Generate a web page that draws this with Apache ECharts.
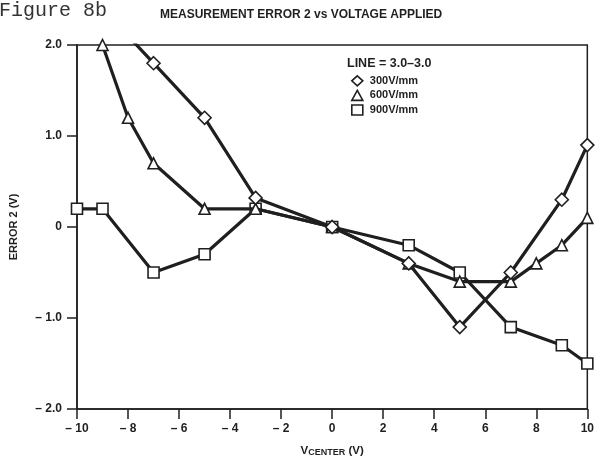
<!DOCTYPE html>
<html>
<head>
<meta charset="utf-8">
<script src="https://cdn.jsdelivr.net/npm/echarts@6/dist/echarts.min.js"></script>
<style>
  html, body { margin: 0; padding: 0; background: #fff; }
  #chart { width: 597px; height: 464px; }
</style>
</head>
<body>
<div id="chart"></div>
<script>
// Center voltage (V) for each series
const x300 = [-9, -7, -5, -3, 0, 3, 5, 7, 9, 10];
const x600 = [-9, -8, -7, -5, -3, 0, 3, 5, 7, 8, 9, 10];
const x900 = [-10, -9, -7, -5, -3, 0, 3, 5, 7, 9, 10];

// Measurement error 2 (V)
const err300 = [2.4, 1.8, 1.2, 0.32, 0, -0.4, -1.1, -0.5, 0.3, 0.9];
const err600 = [2.0, 1.2, 0.7, 0.2, 0.2, 0, -0.4, -0.6, -0.6, -0.4, -0.2, 0.1];
const err900 = [0.2, 0.2, -0.5, -0.3, 0.2, 0, -0.2, -0.5, -1.1, -1.3, -1.5];

const seriesNames = ['300V/mm', '600V/mm', '900V/mm'];
const legendHeader = 'LINE = 3.0–3.0';
const xTicks = [-10, -8, -6, -4, -2, 0, 2, 4, 6, 8, 10];
const yTicks = [-2, -1, 0, 1, 2];

const ink = '#1f1f1f';
const sansBold = { fontFamily: 'Liberation Sans, Arial, sans-serif', fontWeight: 'bold', color: ink };

function pairs(xs, ys) { return xs.map((x, i) => [x, ys[i]]); }

// Tick labels use a dash followed by a space for negatives
function dashLabel(v, digits) {
  if (v === 0) return '0';
  const s = Math.abs(v).toFixed(digits);
  return v < 0 ? '– ' + s : s;
}

const markStyle = { color: '#fff', borderColor: ink, borderWidth: 1.6 };
const lineStyle = { color: ink, width: 3.2 };

function makeSeries(name, data, symbol, size, z) {
  return {
    name: name,
    type: 'line',
    data: data,
    symbol: symbol,
    symbolSize: size,
    showAllSymbol: true,
    clip: true,
    lineStyle: lineStyle,
    itemStyle: markStyle,
    emphasis: { disabled: true },
    z: z,
    animation: false
  };
}

const chart = echarts.init(document.getElementById('chart'), null, { renderer: 'canvas' });

chart.setOption({
  backgroundColor: '#fff',
  animation: false,
  title: {
    text: 'MEASUREMENT ERROR 2 vs VOLTAGE APPLIED',
    left: 155,
    top: 4,
    textStyle: Object.assign({ fontSize: 12 }, sansBold)
  },
  graphic: [
    {
      type: 'text',
      left: -1,
      top: 1,
      style: { text: 'Figure 8b', font: '20px "Liberation Mono", "DejaVu Sans Mono", monospace', fill: '#333' }
    },
    {
      type: 'text',
      left: 347,
      top: 57,
      style: { text: legendHeader, font: 'bold 12.5px "Liberation Sans", Arial, sans-serif', fill: ink }
    }
  ],
  legend: {
    orient: 'vertical',
    left: 346,
    top: 70,
    itemGap: 3,
    itemWidth: 11,
    itemHeight: 10,
    selectedMode: false,
    textStyle: Object.assign({ fontSize: 11, padding: [0, 0, 0, 2] }, sansBold),
    data: [
      { name: seriesNames[0], icon: 'diamond', itemStyle: markStyle },
      { name: seriesNames[1], icon: 'triangle', itemStyle: markStyle },
      { name: seriesNames[2], icon: 'rect', itemStyle: markStyle }
    ]
  },
  grid: {
    left: 77,
    right: 5,
    top: 45,
    bottom: 55,
    show: true,
    borderColor: ink,
    borderWidth: 1.5,
    backgroundColor: 'transparent'
  },
  xAxis: {
    type: 'value',
    min: xTicks[0],
    max: xTicks[xTicks.length - 1],
    interval: 2,
    name: '{v|V}{s|CENTER}{v| (V)}',
    nameLocation: 'middle',
    nameGap: 36,
    nameTextStyle: {
      rich: {
        v: Object.assign({ fontSize: 11.5 }, sansBold),
        s: Object.assign({ fontSize: 9, padding: [3, 0, 0, 0] }, sansBold)
      }
    },
    axisLine: { show: true, onZero: false, lineStyle: { color: ink, width: 1.5 } },
    axisTick: { show: true, inside: false, length: 10, lineStyle: { color: ink, width: 1.5 } },
    axisLabel: Object.assign({ fontSize: 12, margin: 14, formatter: v => dashLabel(v, 0) }, sansBold),
    splitLine: { show: false }
  },
  yAxis: {
    type: 'value',
    min: yTicks[0],
    max: yTicks[yTicks.length - 1],
    interval: 1,
    name: 'ERROR 2 (V)',
    nameLocation: 'middle',
    nameGap: 58,
    nameRotate: 90,
    nameTextStyle: Object.assign({ fontSize: 11 }, sansBold),
    axisLine: { show: true, onZero: false, lineStyle: { color: ink, width: 1.5 } },
    axisTick: { show: true, inside: false, length: 10, lineStyle: { color: ink, width: 1.5 } },
    axisLabel: Object.assign({ fontSize: 12, margin: 15, formatter: v => dashLabel(v, 1) }, sansBold),
    splitLine: { show: false }
  },
  series: [
    makeSeries(seriesNames[2], pairs(x900, err900), 'rect', 11, 2),
    makeSeries(seriesNames[1], pairs(x600, err600), 'triangle', 11, 3),
    makeSeries(seriesNames[0], pairs(x300, err300), 'diamond', 13, 4)
  ]
});
</script>
</body>
</html>
